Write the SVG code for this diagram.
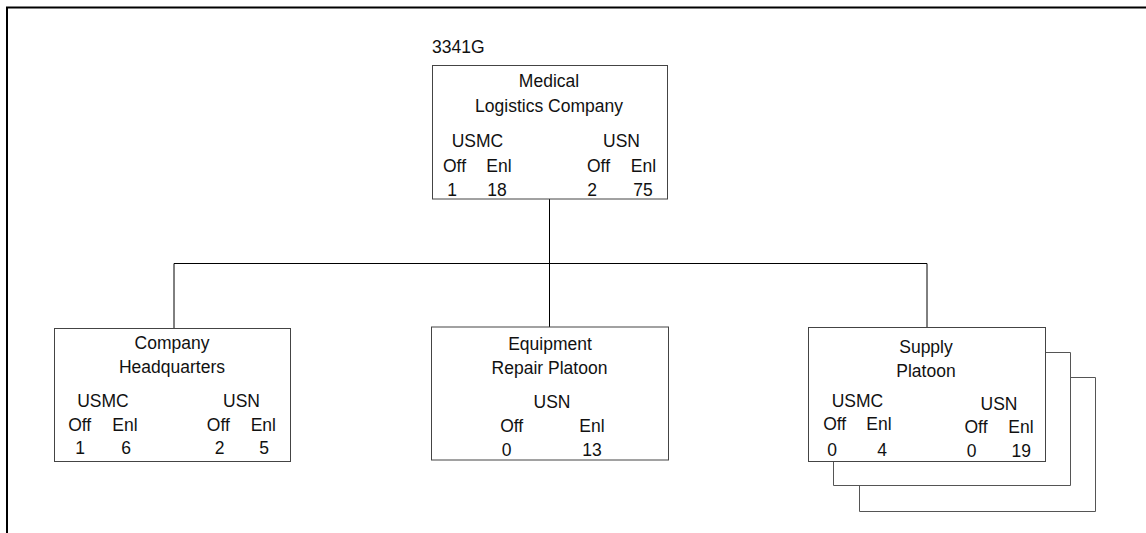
<svg xmlns="http://www.w3.org/2000/svg" width="1146" height="533" viewBox="0 0 1146 533">
<style>
text{font-family:"Liberation Sans",Arial,sans-serif;font-size:17.5px;fill:#111;text-anchor:middle}
.box{fill:#fff;stroke:#444;stroke-width:1}
.sh{fill:none;stroke:#555;stroke-width:1}
.conn{fill:none;stroke:#000;stroke-width:1}
</style>
<rect width="1146" height="533" fill="#fff"/>
<path d="M7,533 V7.5 H1146" fill="none" stroke="#000" stroke-width="2"/>
<g id="connectors">
<path class="conn" d="M549.5,199 V327"/>
<path class="conn" d="M174,328 V263.5 H927 V327"/>
</g>
<g id="top">
<text x="432" y="53" style="text-anchor:start">3341G</text>
<rect class="box" x="432.5" y="65.5" width="235" height="133.5"/>
<text x="549" y="87">Medical</text>
<text x="549" y="112">Logistics Company</text>
<text x="477.5" y="147">USMC</text>
<text x="454.5" y="172">Off</text>
<text x="499" y="172">Enl</text>
<text x="452" y="196">1</text>
<text x="497" y="196">18</text>
<text x="621.5" y="147">USN</text>
<text x="598.5" y="172">Off</text>
<text x="643.5" y="172">Enl</text>
<text x="592" y="196">2</text>
<text x="643" y="196">75</text>
</g>
<g id="hq">
<rect class="box" x="54.5" y="328.5" width="236" height="133"/>
<text x="172" y="348.5">Company</text>
<text x="172" y="372.5">Headquarters</text>
<text x="103" y="406.5">USMC</text>
<text x="79.7" y="430.5">Off</text>
<text x="125" y="430.5">Enl</text>
<text x="80" y="454">1</text>
<text x="126" y="454">6</text>
<text x="241.5" y="406.5">USN</text>
<text x="218.3" y="430.5">Off</text>
<text x="263.3" y="430.5">Enl</text>
<text x="219.5" y="454">2</text>
<text x="264" y="454">5</text>
</g>
<g id="equipment">
<rect class="box" x="431.5" y="327" width="237" height="133"/>
<text x="550" y="350">Equipment</text>
<text x="549.5" y="374">Repair Platoon</text>
<text x="552" y="408">USN</text>
<text x="511.7" y="431.5">Off</text>
<text x="592" y="431.5">Enl</text>
<text x="506.7" y="455.5">0</text>
<text x="592" y="455.5">13</text>
</g>
<g id="supply">
<path class="sh" d="M1070.5,377.5 H1095.5 V511.5 H859.5 V485.5"/>
<path class="sh" d="M1045.5,352.5 H1070.5 V485.5 H833.5 V461.5"/>
<rect class="box" x="808.5" y="327.5" width="237" height="134"/>
<text x="926" y="352.5">Supply</text>
<text x="926" y="376.5">Platoon</text>
<text x="857.5" y="406.5">USMC</text>
<text x="834.7" y="430">Off</text>
<text x="879" y="430">Enl</text>
<text x="832" y="455.5">0</text>
<text x="882" y="455.5">4</text>
<text x="999" y="409.5">USN</text>
<text x="976" y="433">Off</text>
<text x="1021" y="433">Enl</text>
<text x="971.7" y="456.5">0</text>
<text x="1021.3" y="456.5">19</text>
</g>
</svg>
